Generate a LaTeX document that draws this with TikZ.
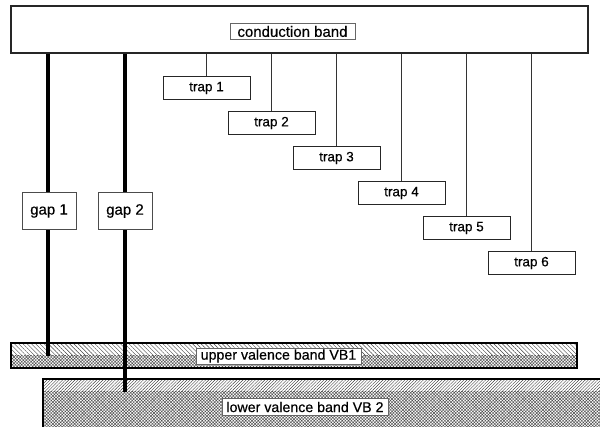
\documentclass[tikz,border=0pt]{standalone}
\usepackage{fontspec}
\setmainfont{Liberation Sans}[FakeBold=0.4]
\usetikzlibrary{patterns.meta}
\tikzset{
  bigbox/.style={draw=black!85, line width=1.4pt, fill=white, inner sep=0pt},
  lblbox/.style={draw=black!60, line width=0.8pt, fill=white, inner sep=0pt, font=\fontsize{14.2}{16}\selectfont},
  trapbox/.style={draw=black!85, line width=0.9pt, fill=white, inner sep=0pt, minimum width=87pt, minimum height=23pt, font=\fontsize{13.5}{15}\selectfont},
  gapbox/.style={draw=black!70, line width=0.8pt, fill=white, inner sep=0pt, minimum width=54pt, minimum height=37pt, font=\fontsize{15}{16}\selectfont},
  gapline/.style={line width=4pt, black},
  trapline/.style={line width=0.9pt, black!80},
  hatchNW/.style={pattern={Lines[angle=-45,distance=3pt,line width=0.4pt]}, pattern color=black!75},
  hatchNE/.style={pattern={Lines[angle=45,distance=2.2pt,line width=0.4pt]}, pattern color=black!75},
  dotfill/.style={pattern={Hatch[angle=45,distance=2.2pt,line width=0.45pt]}, pattern color=black!70},
  bandedge/.style={line width=1.2pt, black}
}
\begin{document}
\begin{tikzpicture}[x=1pt,y=-1pt]
\useasboundingbox (0,0) rectangle (600,427);
\fill[white] (0,0) rectangle (600,427);

% valence bands
\fill[white] (11,343) rectangle (577,368);
\fill[hatchNW] (11,343) rectangle (577,356);
\fill[dotfill] (11,356) rectangle (577,368);
\draw[bandedge] (11,343) rectangle (577,368);

\fill[white] (43,379) rectangle (601,428);
\fill[hatchNE] (43,379) rectangle (601,392);
\fill[dotfill] (43,392) rectangle (601,428);
\draw[bandedge] (43,428) -- (43,379) -- (601,379);

% conduction band
\node[bigbox, minimum width=577pt, minimum height=47pt] (cb) at (299.5,29.5) {};
\node[lblbox, minimum width=125pt, minimum height=16pt, font=\fontsize{15}{16}\selectfont] (cbl) at (292.5,31.5) {conduction band};

% gap lines and boxes
\coordinate (g1end) at (48,356);
\coordinate (g2end) at (124.5,392);
\draw[gapline] (cb.south -| g1end) -- (g1end);
\draw[gapline] (cb.south -| g2end) -- (g2end);
\node[gapbox] (gap1) at (49,211) {gap 1};
\node[gapbox] (gap2) at (125,211) {gap 2};

% traps
\foreach \k in {1,...,6}{
  \node[trapbox] (t\k) at ({206.5+65*(\k-1)},{88+35*(\k-1)}) {trap \k};
  \draw[trapline] (cb.south -| t\k.north) -- (t\k.north);
}

% valence band labels
\node[lblbox, minimum width=165pt, minimum height=16pt] (vb1) at (278.5,356) {upper valence band VB1};
\node[lblbox, minimum width=166pt, minimum height=17pt] (vb2) at (305,407) {lower valence band VB 2};
\end{tikzpicture}
\end{document}
